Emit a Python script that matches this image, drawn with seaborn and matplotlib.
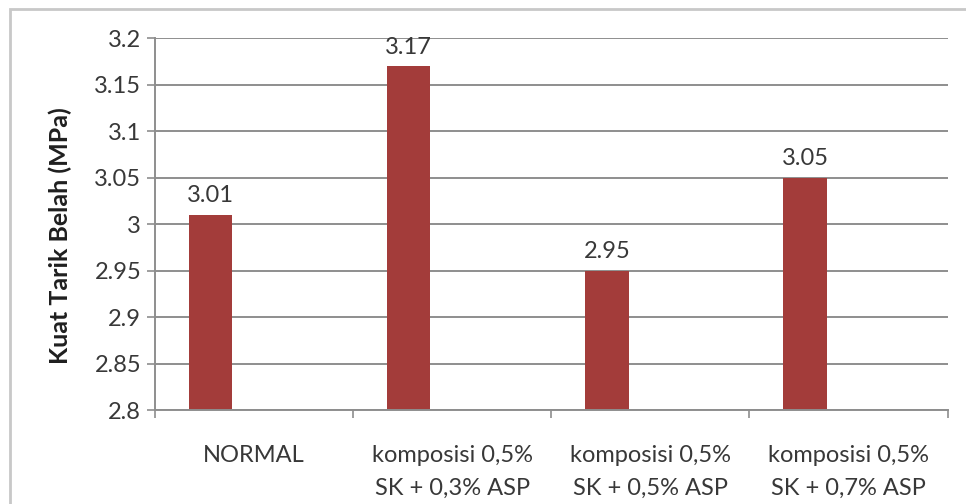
import matplotlib
matplotlib.use("Agg")
import matplotlib.pyplot as plt
import seaborn as sns
import pandas as pd
from matplotlib.patches import Rectangle

# Splitting tensile strength per mix composition
categories = [
    "NORMAL",
    "komposisi 0,5%\nSK + 0,3% ASP",
    "komposisi 0,5%\nSK + 0,5% ASP",
    "komposisi 0,5%\nSK + 0,7% ASP",
]
values = [3.01, 3.17, 2.95, 3.05]
y_ticks = [2.8, 2.85, 2.9, 2.95, 3.0, 3.05, 3.1, 3.15, 3.2]
y_tick_labels = ["2.8", "2.85", "2.9", "2.95", "3", "3.05", "3.1", "3.15", "3.2"]

sns.set_theme(style="white")
plt.rcParams["font.family"] = ["Lato", "DejaVu Sans"]

TEXT = "#383838"
GRID = "#8e8e8e"
BAR = "#a33c3a"

df = pd.DataFrame({"kategori": categories, "nilai": values})

fig = plt.figure(figsize=(9.66, 5.04), dpi=100)
ax = fig.add_axes([0.1605, 0.1865, 0.8205, 0.738])

sns.barplot(data=df, x="kategori", y="nilai", order=categories,
            color=BAR, width=0.22, saturation=1, ax=ax)

# bars sit left of the slot centre, as the first of three series
shift = -0.22
for p in ax.patches:
    p.set_x(p.get_x() + shift)
    p.set_edgecolor("none")

ax.set_ylim(2.8, 3.2)
ax.set_xlim(-0.5, len(categories) - 0.5)
ax.set_yticks(y_ticks)
ax.set_yticklabels(y_tick_labels)
ax.yaxis.grid(True, color=GRID, linewidth=1.4)
ax.set_axisbelow(True)

ax.set_xticks(range(len(categories)))
ax.set_xticklabels(categories, fontsize=17, color=TEXT, linespacing=1.7)
ax.set_xticks([i - 0.5 for i in range(len(categories) + 1)], minor=True)
ax.tick_params(axis="x", which="major", length=0, pad=25)
ax.tick_params(axis="x", which="minor", length=6, width=1.2, color=GRID, direction="out")
ax.tick_params(axis="y", length=6, width=1.2, color=GRID, direction="out",
               labelsize=17, labelcolor=TEXT, pad=4)
ax.tick_params(axis="x", which="minor", bottom=True)
ax.tick_params(axis="y", left=True)

for side in ["top", "right"]:
    ax.spines[side].set_visible(False)
for side in ["left", "bottom"]:
    ax.spines[side].set_color(GRID)
    ax.spines[side].set_linewidth(1.4)

ax.set_xlabel("")
ax.set_ylabel("Kuat Tarik Belah (MPa)", fontsize=18, fontweight="bold",
              color="#1f1f1f")
ax.yaxis.set_label_coords(-0.105, 0.47)

for p, v in zip(ax.patches, values):
    ax.annotate(f"{v:.2f}", (p.get_x() + p.get_width() / 2, v),
                xytext=(0, 6), textcoords="offset points",
                ha="center", va="bottom", fontsize=17, color=TEXT)

# light frame around the chart area
fig.patches.append(Rectangle((10 / 966, -0.05), 1.2, 1 - 9 / 504 + 0.05,
                             transform=fig.transFigure, fill=False,
                             edgecolor="#c8c8c8", linewidth=2.0))

fig.savefig("out.png", dpi=100)
